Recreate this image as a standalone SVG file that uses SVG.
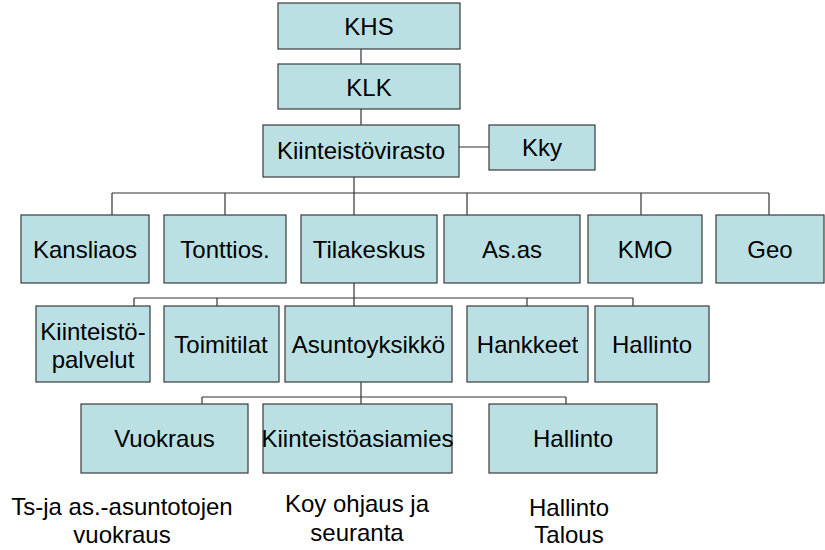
<svg xmlns="http://www.w3.org/2000/svg" width="825" height="550" viewBox="0 0 825 550">
<style>
.box{fill:#BBE0E3;stroke:#3a3a3a;stroke-width:1.2}
.t{font-family:"Liberation Sans",Arial,sans-serif;font-size:24px;fill:#000;text-anchor:middle}
.c{fill:none;stroke:#333;stroke-width:1.2}
</style>
<rect width="825" height="550" fill="#fff"/>
<g id="connectors">
<path class="c" d="M361 49V64M361 109V125M459 147H489"/>
<path class="c" d="M354 177V193M112 193H769M112 193V215M225 193V215M354 193V215M467 193V215M641 193V215M769 193V215"/>
<path class="c" d="M354 283V306M134 298H633M134 298V306M217 298V306M527 298V306M633 298V306"/>
<path class="c" d="M361 382V397M202 397H566M202 397V404M361 397V404M566 397V404"/>
</g>
<g id="khs"><rect class="box" x="278" y="3" width="182" height="46"/><text class="t" x="369" y="35">KHS</text></g>
<g id="klk"><rect class="box" x="278" y="64" width="182" height="45"/><text class="t" x="369" y="96">KLK</text></g>
<g id="kiinteistovirasto"><rect class="box" x="263" y="125" width="196" height="52"/><text class="t" x="361" y="159">Kiinteistövirasto</text></g>
<g id="kky"><rect class="box" x="489" y="125" width="106" height="45"/><text class="t" x="542" y="156">Kky</text></g>
<g id="kansliaos"><rect class="box" x="21" y="215" width="128" height="68"/><text class="t" x="85" y="258">Kansliaos</text></g>
<g id="tonttios"><rect class="box" x="164" y="215" width="122" height="68"/><text class="t" x="225" y="258">Tonttios.</text></g>
<g id="tilakeskus"><rect class="box" x="301" y="215" width="136" height="68"/><text class="t" x="369" y="258">Tilakeskus</text></g>
<g id="asas"><rect class="box" x="444" y="215" width="136" height="68"/><text class="t" x="512" y="258">As.as</text></g>
<g id="kmo"><rect class="box" x="588" y="215" width="114" height="68"/><text class="t" x="645" y="258">KMO</text></g>
<g id="geo"><rect class="box" x="716" y="215" width="108" height="68"/><text class="t" x="770" y="258">Geo</text></g>
<g id="kiinteistopalvelut"><rect class="box" x="36" y="306" width="114" height="76"/><text class="t" x="93" y="340">Kiinteistö-</text><text class="t" x="93" y="368">palvelut</text></g>
<g id="toimitilat"><rect class="box" x="164" y="306" width="115" height="76"/><text class="t" x="221" y="353">Toimitilat</text></g>
<g id="asuntoyksikko"><rect class="box" x="285" y="306" width="167" height="76"/><text class="t" x="368.5" y="353">Asuntoyksikkö</text></g>
<g id="hankkeet"><rect class="box" x="467" y="306" width="121" height="76"/><text class="t" x="527.5" y="353">Hankkeet</text></g>
<g id="hallinto1"><rect class="box" x="595" y="306" width="114" height="76"/><text class="t" x="652" y="353">Hallinto</text></g>
<g id="vuokraus"><rect class="box" x="81" y="404" width="167" height="69"/><text class="t" x="164.5" y="447">Vuokraus</text></g>
<g id="kiinteistoasiamies"><rect class="box" x="263" y="404" width="189" height="69"/><text class="t" x="357.5" y="447">Kiinteistöasiamies</text></g>
<g id="hallinto2"><rect class="box" x="489" y="404" width="168" height="69"/><text class="t" x="573" y="447">Hallinto</text></g>
<g id="notes">
<text class="t" x="122" y="515">Ts-ja as.-asuntotojen</text>
<text class="t" x="122" y="543">vuokraus</text>
<text class="t" x="357" y="512">Koy ohjaus ja</text>
<text class="t" x="357" y="541">seuranta</text>
<text class="t" x="569" y="516">Hallinto</text>
<text class="t" x="569" y="543">Talous</text>
</g>
</svg>
